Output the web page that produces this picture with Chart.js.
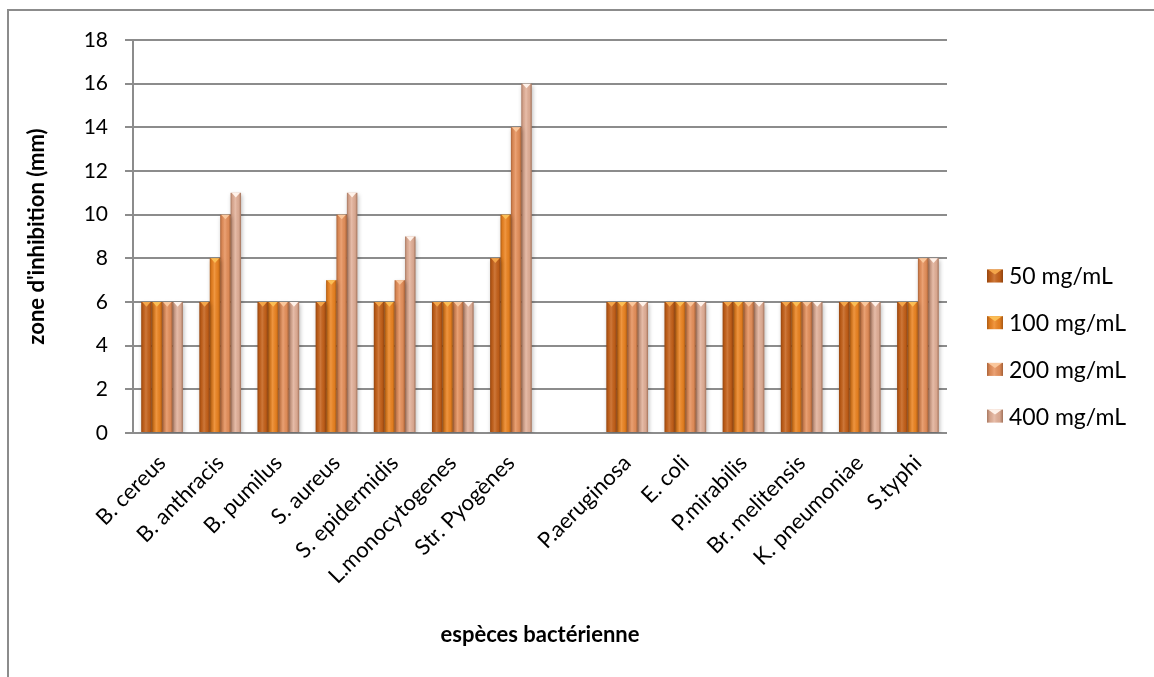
<!DOCTYPE html>
<html>
<head>
<meta charset="utf-8">
<script src="https://cdn.jsdelivr.net/npm/chart.js@4/dist/chart.umd.min.js"></script>
<style>
  html, body { margin: 0; padding: 0; background: #ffffff; }
  #wrap { width: 1154px; height: 677px; position: relative; overflow: hidden; }
  canvas { display: block; }
</style>
</head>
<body>
<div id="wrap"><canvas id="chart" width="1154" height="677"></canvas></div>
<script>
// Bacterial species (the blank entry separates the two groups of strains)
const categories = ['B. cereus', 'B. anthracis', 'B. pumilus', 'S. aureus', 'S. epidermidis',
  'L.monocytogenes', 'Str. Pyogènes', '', 'P.aeruginosa', 'E. coli', 'P.mirabilis',
  'Br. melitensis', 'K. pneumoniae', 'S.typhi'];

// Inhibition zone diameters (mm) per extract concentration
const conc50  = [6, 6, 6, 6, 6, 6, 8,  null, 6, 6, 6, 6, 6, 6];
const conc100 = [6, 8, 6, 7, 6, 6, 10, null, 6, 6, 6, 6, 6, 6];
const conc200 = [6, 10, 6, 10, 7, 6, 14, null, 6, 6, 6, 6, 6, 8];
const conc400 = [6, 11, 6, 11, 9, 6, 16, null, 6, 6, 6, 6, 6, 8];

const seriesLabels = ['50 mg/mL', '100 mg/mL', '200 mg/mL', '400 mg/mL'];
const yMin = 0, yMax = 18, yStep = 2;

const baseColors = ['#C6621A', '#EE8622', '#E8935E', '#E4B39C'];
const tipColors  = ['#F4A64A', '#FBBE55', '#FAC79C', '#FFF2EA'];
const FONT = 'Lato, "Open Sans", "DejaVu Sans", sans-serif';
const GRID = '#8c8c8c';

// Bevel shading on each bar: dark edges, light centre, pale notch at the top
function drawBevel(ctx, x, top, bottom, width, tip) {
  const l = x - width / 2, r = x + width / 2;
  const g = ctx.createLinearGradient(l, 0, r, 0);
  g.addColorStop(0, 'rgba(70,25,0,0.38)');
  g.addColorStop(0.18, 'rgba(70,25,0,0.10)');
  g.addColorStop(0.45, 'rgba(255,255,255,0.14)');
  g.addColorStop(0.8, 'rgba(70,25,0,0.08)');
  g.addColorStop(1, 'rgba(70,25,0,0.42)');
  ctx.fillStyle = g;
  ctx.fillRect(l, top, width, bottom - top);
  ctx.fillStyle = tip;
  ctx.beginPath();
  ctx.moveTo(l + 1, top);
  ctx.lineTo(r - 1, top);
  ctx.lineTo(x, top + Math.min(5, width * 0.45));
  ctx.closePath();
  ctx.fill();
}

const barStyle = {
  id: 'barStyle',
  beforeDatasetsDraw(chart) {
    const ctx = chart.ctx;
    ctx.save();
    ctx.shadowColor = 'rgba(0,0,0,0.28)';
    ctx.shadowBlur = 4;
    ctx.shadowOffsetX = 1;
    ctx.shadowOffsetY = 2;
  },
  afterDatasetsDraw(chart) {
    const ctx = chart.ctx;
    ctx.restore();
    ctx.save();
    chart.data.datasets.forEach((ds, i) => {
      const meta = chart.getDatasetMeta(i);
      meta.data.forEach((bar, j) => {
        if (ds.data[j] == null) return;
        const p = bar.getProps(['x', 'y', 'base', 'width'], true);
        drawBevel(ctx, p.x, Math.min(p.y, p.base), Math.max(p.y, p.base), p.width, tipColors[i]);
      });
    });
    ctx.restore();
  }
};

// Legend to the right of the plot, plus the outer frame of the chart
const sideLegend = {
  id: 'sideLegend',
  afterDraw(chart) {
    const ctx = chart.ctx;
    ctx.save();
    const x0 = 987, yc0 = 276, gap = 46.7, bw = 16, bh = 13;
    chart.data.datasets.forEach((ds, i) => {
      const yc = yc0 + i * gap;
      ctx.fillStyle = ds.backgroundColor;
      ctx.fillRect(x0, yc - bh / 2, bw, bh);
      drawBevel(ctx, x0 + bw / 2, yc - bh / 2, yc + bh / 2, bw, tipColors[i]);
      ctx.fillStyle = '#000000';
      ctx.font = '23px ' + FONT;
      ctx.textAlign = 'left';
      ctx.textBaseline = 'middle';
      ctx.fillText(ds.label, x0 + bw + 6, yc + 1);
    });
    ctx.strokeStyle = GRID;
    ctx.lineWidth = 2;
    ctx.beginPath();
    ctx.moveTo(8, 680);
    ctx.lineTo(8, 10);
    ctx.lineTo(1160, 10);
    ctx.stroke();
    ctx.restore();
  }
};

const seriesData = [conc50, conc100, conc200, conc400];

new Chart(document.getElementById('chart'), {
  type: 'bar',
  data: {
    labels: categories,
    datasets: seriesData.map((d, i) => ({
      label: seriesLabels[i],
      data: d,
      backgroundColor: baseColors[i],
      borderWidth: 0,
      categoryPercentage: 0.716,
      barPercentage: 1.0
    }))
  },
  options: {
    responsive: false,
    devicePixelRatio: 1,
    animation: false,
    layout: { padding: { top: 40, right: 207, left: 0, bottom: 0 } },
    plugins: { legend: { display: false }, tooltip: { enabled: false } },
    scales: {
      x: {
        grid: { display: false, drawTicks: false },
        border: { display: false },
        ticks: {
          autoSkip: false, maxRotation: 45, minRotation: 45,
          padding: 17, color: '#000000',
          font: { family: FONT, size: 22 }
        },
        title: {
          display: true, text: 'espèces bactérienne', color: '#000000',
          font: { family: FONT, size: 22, weight: 'bold' },
          padding: { top: 0, bottom: 29 }
        },
        afterFit(scale) { scale.height = 244; }
      },
      y: {
        min: yMin, max: yMax,
        ticks: {
          stepSize: yStep, padding: 17, color: '#000000',
          font: { family: FONT, size: 21 }
        },
        grid: { color: GRID, lineWidth: 2, tickLength: 8, drawTicks: true },
        border: { display: true, color: GRID, width: 2 },
        title: {
          display: true, text: "zone d'inhibition (mm)", color: '#000000',
          font: { family: FONT, size: 22, weight: 'bold' },
          padding: { top: 24, bottom: 0 }
        },
        afterFit(scale) { scale.width = 133; }
      }
    }
  },
  plugins: [barStyle, sideLegend]
});
</script>
</body>
</html>
